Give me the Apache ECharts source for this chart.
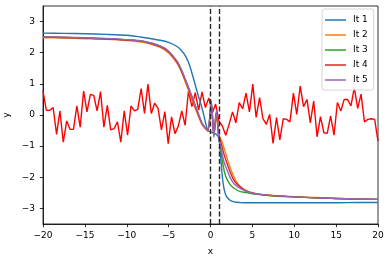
<!DOCTYPE html>
<html>
<head>
<meta charset="utf-8">
<script src="https://cdn.jsdelivr.net/npm/echarts@6/dist/echarts.min.js"></script>
<style>html,body{margin:0;padding:0;background:#fff}#c{width:391px;height:262px}</style>
</head>
<body>
<div id="c"></div>
<script>
// ---- data ----
var noiseX = [-20,-19.6,-19.19,-18.79,-18.38,-17.98,-17.58,-17.17,-16.77,-16.36,-15.96,-15.56,-15.15,-14.75,-14.34,-13.94,-13.54,-13.13,-12.73,-12.32,-11.92,-11.52,-11.11,-10.71,-10.3,-9.9,-9.49,-9.09,-8.69,-8.28,-7.88,-7.47,-7.07,-6.67,-6.26,-5.86,-5.45,-5.05,-4.65,-4.24,-3.84,-3.43,-3.03,-2.63,-2.22,-1.82,-1.41,-1.01,-0.61,-0.2,0.2,0.61,1.01,1.41,1.82,2.22,2.63,3.03,3.43,3.84,4.24,4.65,5.05,5.45,5.86,6.26,6.67,7.07,7.47,7.88,8.28,8.69,9.09,9.49,9.9,10.3,10.71,11.11,11.52,11.92,12.32,12.73,13.13,13.54,13.94,14.34,14.75,15.15,15.56,15.96,16.36,16.77,17.17,17.58,17.98,18.38,18.79,19.19,19.6,20];
var noiseY = [0.77,0.15,0.15,0.24,-0.62,0.13,-0.87,-0.19,-0.46,-0.46,0.29,-0.39,0.77,0.10,0.66,0.63,0.13,0.75,-0.39,0.31,-0.48,-0.44,-0.22,-0.87,0.13,-0.65,0.29,0.13,0.18,0.85,0.05,0.99,0.05,0.38,0.21,-0.48,0.11,-0.92,-0.06,-0.60,-0.35,0.13,-0.33,0.77,0.27,0.72,0.16,0.74,0.24,0.55,0.05,0.35,-0.20,-0.35,-0.65,-0.30,0.10,-0.25,0.40,0.20,0.70,0.10,0.99,-0.08,0.56,-0.12,-0.30,0.02,-0.91,-0.08,-0.80,-0.12,-0.14,-0.22,0.70,0.02,0.93,0.27,0.50,-0.25,0.45,-0.70,-0.05,-0.57,-0.59,-0.03,-0.65,0.40,0.13,0.50,0.50,0.29,0.88,0.21,0.67,-0.22,-0.14,-0.12,-0.14,-0.84];

var curveX = [-20,-17.5,-15,-12.5,-10,-8,-6,-5,-4,-3.5,-3,-2.5,-2,-1.5,-1,-0.5,-0.3,0.1,0.4,0.7,1.0,1.2,1.4,1.6,1.8,2.0,2.3,2.7,3.1,3.5,4,4.5,5,6,7.5,10,12.5,15,17.5,20];
var it1 = [2.63,2.62,2.61,2.59,2.56,2.49,2.4,2.33,2.2,2.08,1.9,1.6,1.14,0.66,0.21,-0.34,-0.5,-0.55,-0.58,-0.62,-0.75,-1.3,-1.95,-2.35,-2.55,-2.65,-2.73,-2.78,-2.8,-2.81,-2.82,-2.82,-2.82,-2.82,-2.82,-2.82,-2.82,-2.82,-2.81,-2.81];
var it2 = [2.48,2.47,2.45,2.43,2.39,2.33,2.17,1.99,1.66,1.40,1.06,0.70,0.34,0.0,-0.32,-0.47,-0.52,0.35,-0.62,0.0,-0.65,-0.75,-0.88,-1.05,-1.22,-1.4,-1.65,-1.93,-2.15,-2.28,-2.39,-2.45,-2.5,-2.55,-2.58,-2.62,-2.65,-2.68,-2.7,-2.71];
var it3 = [2.5,2.49,2.47,2.45,2.41,2.36,2.21,2.04,1.72,1.46,1.13,0.79,0.43,0.07,-0.27,-0.45,-0.5,0.4,-0.68,0.1,-0.7,-1.1,-1.45,-1.75,-1.95,-2.08,-2.22,-2.33,-2.4,-2.45,-2.48,-2.5,-2.53,-2.56,-2.6,-2.63,-2.66,-2.68,-2.7,-2.71];
var it4 = [2.5,2.49,2.47,2.45,2.41,2.36,2.2,2.03,1.7,1.44,1.11,0.76,0.4,0.04,-0.29,-0.46,-0.51,0.38,-0.65,0.05,-0.7,-0.85,-1.05,-1.25,-1.42,-1.57,-1.8,-2.05,-2.2,-2.3,-2.4,-2.46,-2.5,-2.55,-2.59,-2.63,-2.66,-2.68,-2.7,-2.71];
var it5 = [2.51,2.5,2.48,2.46,2.42,2.37,2.22,2.05,1.73,1.47,1.14,0.8,0.44,0.08,-0.27,-0.45,-0.5,0.45,-0.72,0.15,-0.75,-1.0,-1.25,-1.5,-1.65,-1.78,-1.98,-2.17,-2.28,-2.35,-2.42,-2.47,-2.51,-2.55,-2.59,-2.63,-2.66,-2.68,-2.7,-2.71];
var curveNames = ['It 1','It 2','It 3','It 4','It 5'];
var curveColors = ['#1f77b4','#ff7f0e','#2ca02c','#d62728','#9467bd'];
var vLines = [0, 1];
var yTicks = [-3,-2,-1,0,1,2,3];

// ---- chart ----
function zip(a, b){ return a.map(function(v,i){ return [v, b[i]]; }); }
var FONT = 'DejaVu Sans';
var fmt = function(v){ return String(v).replace('-', '\u2212'); };
var chart = echarts.init(document.getElementById('c'), null, {renderer:'canvas'});
var series = [{
  type:'line', data: zip(noiseX, noiseY), showSymbol:false, symbol:'none',
  lineStyle:{color:'#ff0000', width:1.4}, itemStyle:{color:'#ff0000'}, z:2, silent:true
}];
[it1,it2,it3,it4,it5].forEach(function(arr, k){
  series.push({
    name: curveNames[k], type:'line', data: zip(curveX, arr), showSymbol:false, symbol:'none',
    smooth:0.25, lineStyle:{color:curveColors[k], width:1.4}, itemStyle:{color:curveColors[k]}, z:3, silent:true
  });
});
series.push({
  type:'line', data:[], silent:true, z:5,
  markLine:{ silent:true, symbol:['none','none'], label:{show:false}, animation:false,
    lineStyle:{color:'#262626', width:1.4, type:[5,2.5]},
    data: vLines.map(function(v){ return {xAxis:v}; }) }
});
chart.setOption({
  animation:false,
  grid:{left:43, right:13, top:6, bottom:38, show:true, borderColor:'#000', borderWidth:0.8,
    containLabel:false, outerBoundsMode:'none'},
  legend:{
    data: curveNames, orient:'vertical', left:322, top:9, icon:'rect', itemWidth:21, itemHeight:1.5,
    itemGap:3, padding:[5,6,4,3], borderColor:'#cccccc', borderWidth:0.8, borderRadius:2.5,
    backgroundColor:'rgba(255,255,255,0.8)',
    textStyle:{fontFamily:FONT, fontSize:9, color:'#000', lineHeight:12, padding:[0,0,0,2]}
  },
  xAxis:{type:'value', min:-20, max:20, interval:5,
    axisLine:{show:true, onZero:false, lineStyle:{color:'#000', width:0.8}},
    axisTick:{show:true, length:3.2, lineStyle:{color:'#000', width:0.8}},
    axisLabel:{fontFamily:FONT, fontSize:9, color:'#000', margin:7, formatter:fmt},
    splitLine:{show:false},
    name:'x', nameLocation:'middle', nameGap:23, nameTextStyle:{fontFamily:FONT, fontSize:9, color:'#000'}
  },
  yAxis:{type:'value', min:-3.5, max:3.5,
    axisLine:{show:true, onZero:false, lineStyle:{color:'#000', width:0.8}},
    axisTick:{show:true, length:3.2, customValues:yTicks, lineStyle:{color:'#000', width:0.8}},
    axisLabel:{fontFamily:FONT, fontSize:9, color:'#000', margin:8, customValues:yTicks, formatter:fmt},
    splitLine:{show:false},
    name:'y', nameLocation:'middle', nameGap:27, nameTextStyle:{fontFamily:FONT, fontSize:9, color:'#000'}
  },
  series: series
});
</script>
</body>
</html>
